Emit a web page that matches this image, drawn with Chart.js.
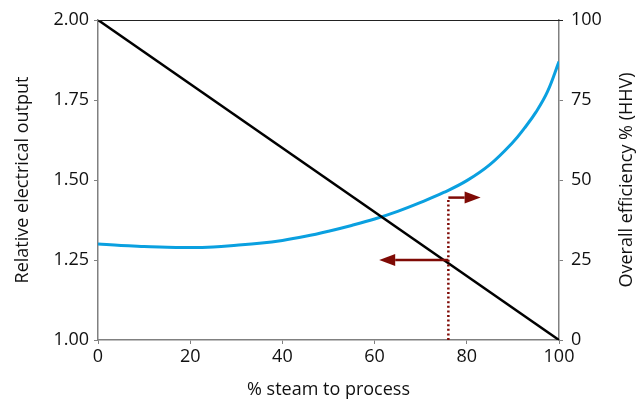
<!DOCTYPE html>
<html lang="en">
<head>
    <meta charset="UTF-8">
    <title>Steam to process vs electrical output</title>
    <script src="https://cdn.jsdelivr.net/npm/chart.js"></script>
    <style>
        body { margin: 0; background: #fff; }
    </style>
</head>
<body>
    <canvas id="chart" width="638" height="403"></canvas>

    <script>
        // relative electrical output (left axis)
        const outputX = [0, 100];
        const outputY = [2.00, 1.00];

        // overall efficiency % HHV (right axis), read every 5 % (2.5 % near the end)
        const effX = [0, 5, 10, 15, 20, 25, 30, 35, 40, 45, 50, 55, 60, 65, 70, 75, 80, 85, 90, 92.5, 95, 97.5, 100];
        const effY = [30, 29.5, 29.2, 28.95, 28.9, 29.1, 29.6, 30.2, 31.1, 32.4, 34, 35.8, 37.8, 40.2, 43, 46.1, 49.8, 54.8, 61.8, 66.2, 71.2, 77.6, 87];

        // operating point marker (dotted line + arrows)
        const markerX = 76;
        const markerTop = 1.445;
        const arrowY = [1.25, 1.445];
        const arrowEndX = [61, 83];

        const xTicks = [0, 20, 40, 60, 80, 100];
        const rightTitle = 'Overall efficiency % (HHV)';

        const FONT = { family: 'Open Sans', size: 18 };
        const GRAY = '#808080';
        const RED = '#7f0a05';

        const arrowPlugin = {
            id: 'arrows',
            afterDatasetsDraw(chart) {
                const { ctx, chartArea, scales } = chart;
                // top frame line
                ctx.save();
                ctx.strokeStyle = '#222';
                ctx.lineWidth = 1;
                ctx.beginPath();
                ctx.moveTo(chartArea.left, chartArea.top + 0.5);
                ctx.lineTo(chartArea.right + 4, chartArea.top + 0.5);
                ctx.stroke();

                ctx.strokeStyle = RED;
                ctx.fillStyle = RED;
                ctx.lineWidth = 2.5;
                for (let i = 0; i < arrowY.length; i++) {
                    const x0 = scales.x.getPixelForValue(markerX);
                    const x1 = scales.x.getPixelForValue(arrowEndX[i]);
                    const y = scales.y.getPixelForValue(arrowY[i]);
                    const dir = Math.sign(x1 - x0);
                    const headLen = 16, half = 6;
                    ctx.beginPath();
                    ctx.moveTo(x0, y);
                    ctx.lineTo(x1 - dir * headLen, y);
                    ctx.stroke();
                    ctx.beginPath();
                    ctx.moveTo(x1, y);
                    ctx.lineTo(x1 - dir * headLen, y - half);
                    ctx.lineTo(x1 - dir * headLen, y + half);
                    ctx.closePath();
                    ctx.fill();
                }

                // right axis title reads bottom to top, like the left one
                ctx.fillStyle = '#111';
                ctx.font = FONT.size + 'px ' + FONT.family;
                ctx.textAlign = 'center';
                ctx.textBaseline = 'middle';
                ctx.translate(627, (chartArea.top + chartArea.bottom) / 2);
                ctx.rotate(-Math.PI / 2);
                ctx.fillText(rightTitle, 0, 0);
                ctx.restore();
            }
        };

        new Chart(document.getElementById('chart'), {
            type: 'scatter',
            data: {
                datasets: [
                    {
                        data: [{ x: markerX, y: 1.0 }, { x: markerX, y: markerTop }],
                        showLine: true,
                        borderColor: RED,
                        borderWidth: 2.5,
                        borderDash: [2, 2.6],
                        borderCapStyle: 'butt',
                        pointRadius: 0,
                        yAxisID: 'y'
                    },
                    {
                        data: outputX.map((x, i) => ({ x, y: outputY[i] })),
                        showLine: true,
                        borderColor: '#000',
                        borderWidth: 2.5,
                        pointRadius: 0,
                        yAxisID: 'y'
                    },
                    {
                        data: effX.map((x, i) => ({ x, y: effY[i] })),
                        showLine: true,
                        borderColor: '#0aa0e0',
                        borderWidth: 3,
                        pointRadius: 0,
                        tension: 0.4,
                        yAxisID: 'y1'
                    }
                ]
            },
            options: {
                responsive: false,
                animation: false,
                layout: { padding: { top: 20, left: 0, right: 0, bottom: 0 } },
                plugins: { legend: { display: false }, tooltip: { enabled: false } },
                scales: {
                    x: {
                        type: 'linear',
                        min: 0, max: 100,
                        afterBuildTicks: s => { s.ticks = xTicks.map(v => ({ value: v })); },
                        afterFit: s => { s.height = 63; },
                        grid: { drawOnChartArea: false, tickLength: 4, color: GRAY },
                        border: { color: GRAY, width: 1.5 },
                        ticks: { color: '#111', font: FONT, padding: 2, maxRotation: 0 },
                        title: { display: true, text: '% steam to process', color: '#111', font: FONT, padding: { top: 0, bottom: 2 } }
                    },
                    y: {
                        position: 'left',
                        min: 1, max: 2,
                        afterFit: s => { s.width = 98; },
                        grid: { drawOnChartArea: false, tickLength: 4, color: GRAY },
                        border: { color: GRAY, width: 1.5 },
                        ticks: { stepSize: 0.25, color: '#111', font: FONT, padding: 5, callback: v => v.toFixed(2) },
                        title: { display: true, text: 'Relative electrical output', color: '#111', font: FONT, padding: { top: 12, bottom: 0 } }
                    },
                    y1: {
                        position: 'right',
                        min: 0, max: 100,
                        afterFit: s => { s.width = 79; },
                        grid: { drawOnChartArea: false, tickLength: 4, color: GRAY },
                        border: { color: GRAY, width: 1.5 },
                        ticks: { stepSize: 25, color: '#111', font: FONT, padding: 8 },
                        title: { display: false }
                    }
                }
            },
            plugins: [arrowPlugin]
        });
    </script>
</body>
</html>
